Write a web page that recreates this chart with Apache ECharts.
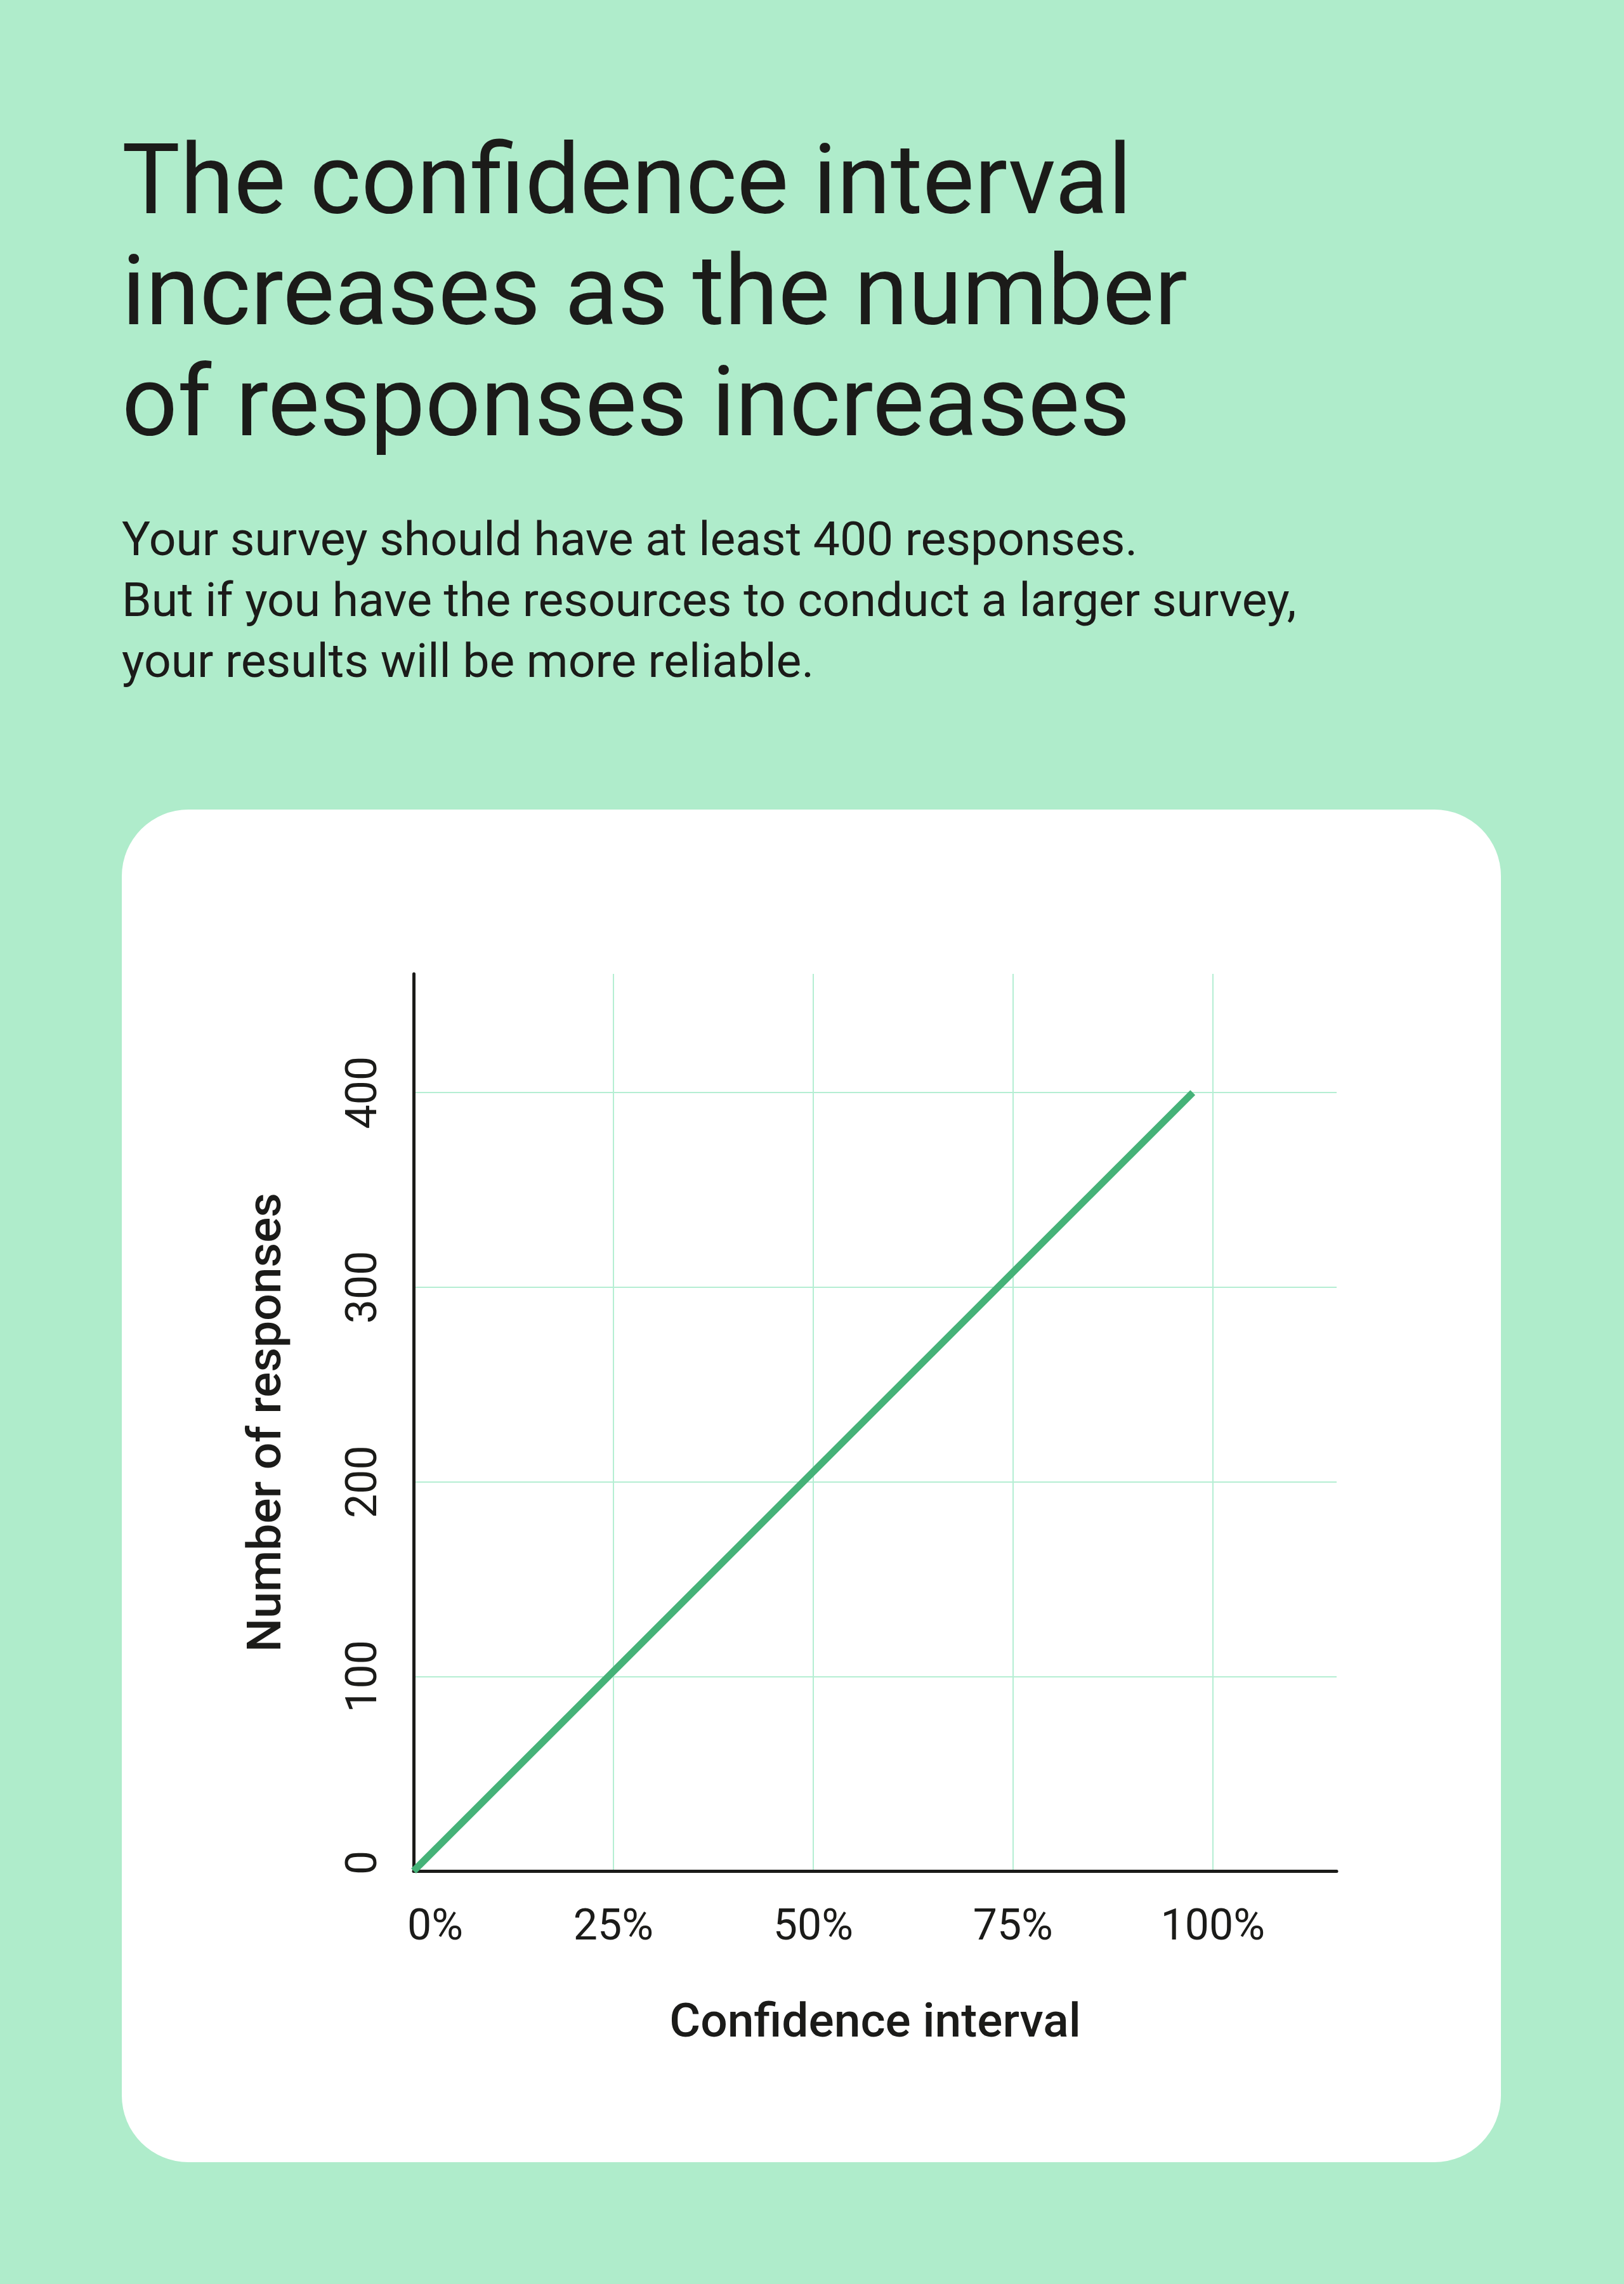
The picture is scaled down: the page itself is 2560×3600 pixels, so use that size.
<!DOCTYPE html>
<html>
<head>
<meta charset="utf-8">
<script src="https://cdn.jsdelivr.net/npm/echarts@6/dist/echarts.min.js"></script>
<style>
html,body{margin:0;padding:0;background:#afeccb;}
#chart{width:2560px;height:3600px;}
</style>
</head>
<body>
<div id="chart"></div>
<script>
// ---- data ----
const titleLines = ['The confidence interval', 'increases as the number', 'of responses increases'];
const subtitleLines = [
  'Your survey should have at least 400 responses.',
  'But if you have the resources to conduct a larger survey,',
  'your results will be more reliable.'
];
const xAxisName = 'Confidence interval';
const yAxisName = 'Number of responses';
const confidence = [0, 97.5];      // x values (%)
const responses = [0, 400];        // y values
const xTickLabels = ['0%', '25%', '50%', '75%', '100%'];
const yTickLabels = ['0', '100', '200', '300', '400'];

// ---- styling ----
const FONT = 'Roboto, "Noto Sans", sans-serif';
const INK = '#1b1b19';
const GRID_LINE = '#b5eed3';

const chart = echarts.init(document.getElementById('chart'), null, {renderer: 'canvas', width: 2560, height: 3600});

chart.setOption({
  backgroundColor: '#afeccb',
  animation: false,
  graphic: [
    {type: 'rect', z: -10, shape: {x: 192, y: 1276, width: 2174, height: 2132, r: 105}, style: {fill: '#ffffff'}, silent: true},
    {type: 'text', x: 192, y: 210, silent: true,
     style: {text: titleLines.join('\n'), fill: INK, fontSize: 154, fontFamily: FONT, fontWeight: 400, lineHeight: 175, verticalAlign: 'top', align: 'left'}},
    {type: 'text', x: 192, y: 808, silent: true,
     style: {text: subtitleLines.join('\n'), fill: INK, fontSize: 75, fontFamily: FONT, fontWeight: 400, lineHeight: 96, verticalAlign: 'top', align: 'left'}}
  ],
  grid: {left: 652, top: 1535, width: 1455, height: 1414, containLabel: false, outerBoundsMode: 'none'},
  xAxis: {
    type: 'value', min: 0, max: 115.5, interval: 25,
    name: xAxisName, nameLocation: 'middle', nameGap: 205,
    nameTextStyle: {fontSize: 75, fontWeight: 500, fontFamily: FONT, color: INK},
    axisLine: {show: true, onZero: false, lineStyle: {color: INK, width: 5}},
    axisTick: {show: false},
    splitLine: {show: true, showMaxLine: false, lineStyle: {color: GRID_LINE, width: 2}},
    axisLabel: {
      margin: 57, fontSize: 68, fontFamily: FONT, color: INK, showMaxLabel: false,
      formatter: function (v) {
        const i = Math.round(v / 25);
        if (Math.abs(v - i * 25) > 1e-6) return '';
        if (i === 0) return '{first|' + xTickLabels[0] + '}';
        return xTickLabels[i] || '';
      },
      rich: {first: {padding: [0, 0, 0, 68], fontSize: 68, fontFamily: FONT, color: INK}}
    }
  },
  yAxis: {
    type: 'value', min: 0, max: 461, interval: 100,
    name: yAxisName, nameLocation: 'middle', nameGap: 191,
    nameTextStyle: {fontSize: 75, fontWeight: 500, fontFamily: FONT, color: INK},
    axisLine: {show: true, onZero: false, lineStyle: {color: INK, width: 5}},
    axisTick: {show: false},
    splitLine: {show: true, showMaxLine: false, lineStyle: {color: GRID_LINE, width: 2}},
    axisLabel: {
      rotate: 90, margin: 42, fontSize: 68, fontFamily: FONT, color: INK, showMaxLabel: false,
      formatter: function (v) {
        const i = Math.round(v / 100);
        if (Math.abs(v - i * 100) > 1e-6) return '';
        if (i === 0) return '{zero|' + yTickLabels[0] + '}';
        return yTickLabels[i] || '';
      },
      rich: {zero: {padding: [0, 0, 0, 26], fontSize: 68, fontFamily: FONT, color: INK}}
    }
  },
  series: [{
    type: 'line',
    data: confidence.map((x, i) => [x, responses[i]]),
    symbol: 'none',
    silent: true,
    clip: true,
    lineStyle: {color: '#45b278', width: 11, cap: 'butt'}
  }]
});
</script>
</body>
</html>
